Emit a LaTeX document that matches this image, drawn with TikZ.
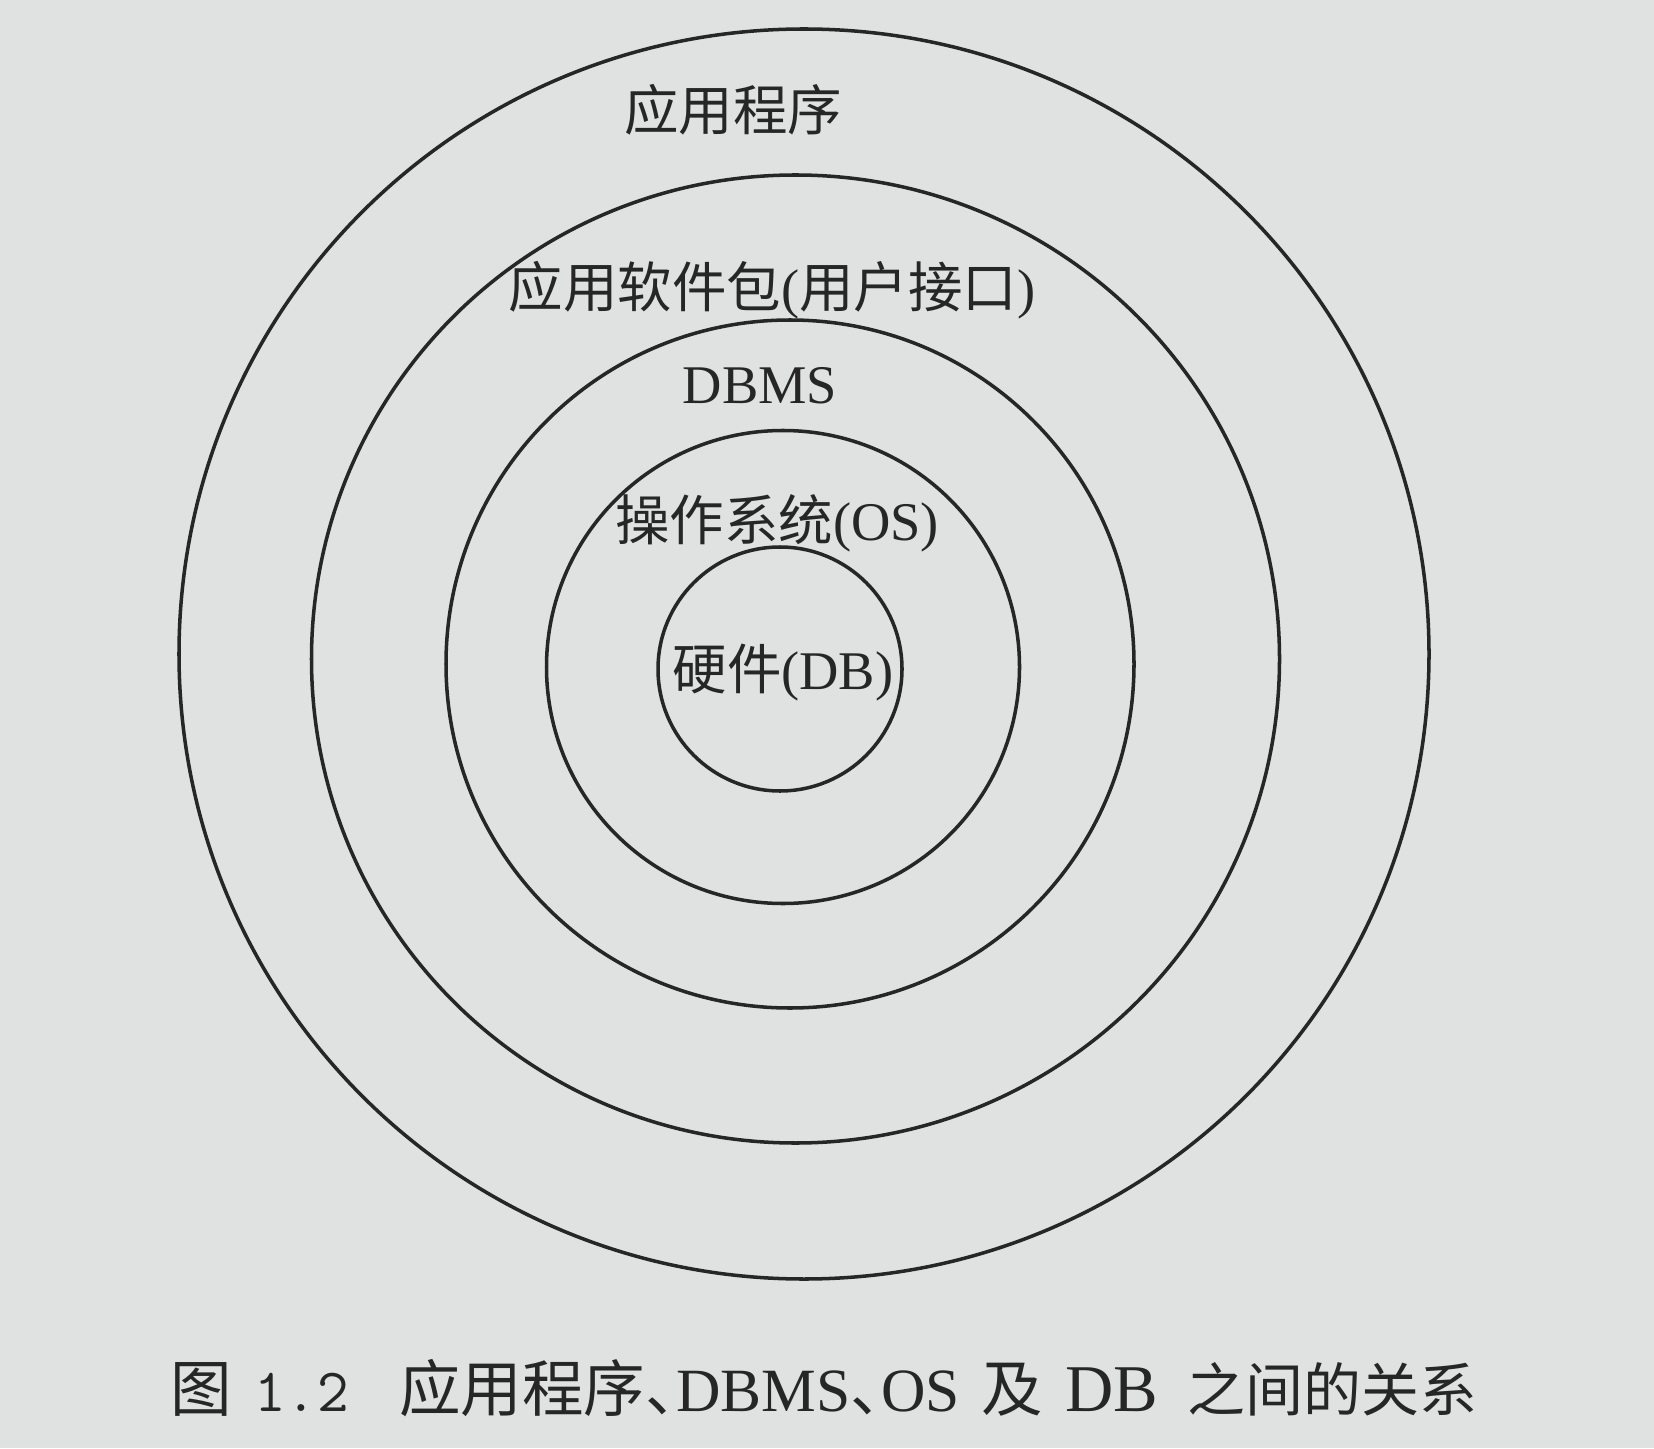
\documentclass[tikz,border=0pt]{standalone}
\usepackage{fontspec}
\setmainfont{Liberation Serif}
\newfontfamily\cjk{Noto Sans CJK SC}
\newcommand{\zh}[1]{{\cjk #1}}
\newcommand{\dun}{\makebox[0.5em][l]{\cjk 、}}
\usetikzlibrary{calc}

\definecolor{paper}{RGB}{224,226,225}
\definecolor{ink}{RGB}{38,38,38}

\begin{document}
\begin{tikzpicture}[x=1cm,y=1cm,
  ring/.style={draw=ink, line width=1pt},
  lab/.style={text=ink, inner sep=0pt, font=\fontsize{15.5}{18}\selectfont}]

\useasboundingbox (0,0) rectangle (16.54,14.48);
\fill[paper] (0,0) rectangle (16.54,14.48);

% rings, outermost first
\draw[ring] (8.04,7.94)  circle (6.25cm);
\draw[ring] (7.955,7.89) circle (4.84cm);
\draw[ring] (7.90,7.84)  circle (3.44cm);
\draw[ring] (7.83,7.81)  circle (2.365cm);
\draw[ring] (7.80,7.79)  circle (1.22cm);

\node[lab] (app)  at (7.33,13.38) {\zh{应用程序}};
\node[lab] (pkg)  at (7.72,11.58) {\zh{应用软件包}(\zh{用户接口})};
\node[lab] (dbms) at (7.60,10.62) {DBMS};
\node[lab] (os)   at (7.77,9.25)  {\zh{操作系统}(OS)};
\node[lab] (hw)   at (7.83,7.75)  {\zh{硬件}(DB)};

\node[lab, anchor=west, font=\fontsize{17.5}{20}\selectfont] (cap) at (1.70,0.60)
  {\zh{图}\hspace{0.22cm}\texttt{1.2}\hspace{0.5cm}\zh{应用程序}\dun DBMS\dun OS\hspace{0.22cm}\zh{及}\hspace{0.22cm}{\fontsize{19}{20}\selectfont DB}\hspace{0.3cm}{\fontsize{16.5}{20}\selectfont\zh{之间的关系}}};

\end{tikzpicture}
\end{document}
